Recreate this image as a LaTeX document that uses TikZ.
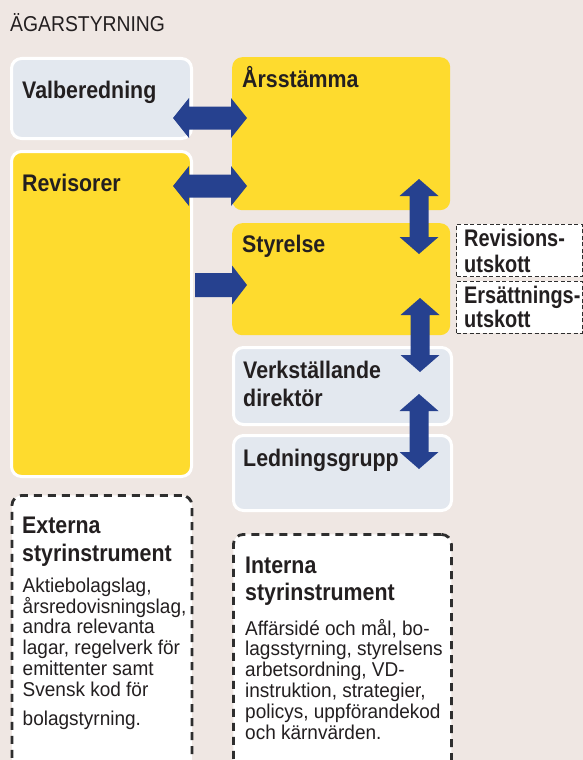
\documentclass[tikz,border=0pt]{standalone}
\usepackage{fontspec}
\setmainfont{Liberation Sans}
\newfontfamily\hfont{Liberation Sans}[FakeStretch=0.89]
\newfontfamily\hfontn{Liberation Sans}[FakeStretch=0.83]
\newfontfamily\tfont{Liberation Sans}[FakeStretch=0.9]
\newfontfamily\bfont{Liberation Sans}[FakeStretch=0.95]
\usetikzlibrary{calc}
\definecolor{bgc}{HTML}{EFE7E3}
\definecolor{ylw}{HTML}{FEDB2E}
\definecolor{lblue}{HTML}{E3E8EF}
\definecolor{arrc}{HTML}{26418F}
\definecolor{txt}{HTML}{231F20}
\definecolor{dashc}{HTML}{2E2E2E}
\tikzset{
  boxbase/.style={anchor=north west, inner sep=0pt, rounded corners=10pt},
  ybox/.style={boxbase, fill=ylw},
  ywbox/.style={boxbase, fill=ylw, draw=white, line width=3pt},
  lbox/.style={boxbase, fill=lblue, draw=white, line width=3pt},
  bigdash/.style={boxbase, fill=white, draw=dashc, line width=2.8pt, dash pattern=on 8pt off 6pt},
  smalldash/.style={anchor=north west, inner sep=0pt, fill=white, draw=dashc, line width=1.1pt, dash pattern=on 4pt off 2.5pt},
  head/.style={anchor=base west, inner sep=0pt, text=txt, font=\hfont\bfseries\fontsize{24}{28}\selectfont},
  headn/.style={head, font=\hfontn\bfseries\fontsize{24}{28}\selectfont},
  body/.style={anchor=base west, inner sep=0pt, text=txt, font=\bfont\fontsize{20}{21}\selectfont},
  titletext/.style={anchor=base west, inner sep=0pt, text=txt, font=\tfont\fontsize{21.5}{24}\selectfont},
}
\newcommand\hdarrow[2]{%
  \fill[arrc] (#1) -- ($(#1)+(16,-20)$) -- ($(#1)+(16,-11.5)$) -- ($(#2)+(-16,-11.5)$) -- ($(#2)+(-16,-20)$) -- (#2)
   -- ($(#2)+(-16,20)$) -- ($(#2)+(-16,11.5)$) -- ($(#1)+(16,11.5)$) -- ($(#1)+(16,20)$) -- cycle;}
\newcommand\vdarrow[2]{%
  \fill[arrc] (#1) -- ($(#1)+(19.5,17)$) -- ($(#1)+(9.5,17)$) -- ($(#2)+(9.5,-17)$) -- ($(#2)+(19.5,-17)$) -- (#2)
   -- ($(#2)+(-19.5,-17)$) -- ($(#2)+(-9.5,-17)$) -- ($(#1)+(-9.5,17)$) -- ($(#1)+(-19.5,17)$) -- cycle;}
\newcommand\rsarrow[2]{%
  \fill[arrc] ($(#1)+(0,-12)$) -- ($(#2)+(-15,-12)$) -- ($(#2)+(-15,-19.5)$) -- (#2)
   -- ($(#2)+(-15,19.5)$) -- ($(#2)+(-15,12)$) -- ($(#1)+(0,12)$) -- cycle;}
\begin{document}
\begin{tikzpicture}[x=1pt,y=-1pt]
\fill[bgc] (0,0) rectangle (583,760);
\useasboundingbox (0,0) rectangle (583,760);
\clip (0,0) rectangle (583,760);
% boxes
\node[lbox, minimum width=180pt, minimum height=80pt] (valb) at (10,57) {};
\node[ybox, minimum width=218pt, minimum height=153pt] (arss) at (232,57) {};
\node[ywbox, minimum width=180pt, minimum height=325pt] (revi) at (10,150) {};
\node[ybox, minimum width=218pt, minimum height=112pt] (styr) at (232,223) {};
\node[lbox, minimum width=218pt, minimum height=77pt] (vd) at (232,346) {};
\node[lbox, minimum width=218pt, minimum height=75pt] (ledn) at (232,434) {};
\node[smalldash, minimum width=125.5pt, minimum height=52.5pt] (revu) at (456,223.5) {};
\node[smalldash, minimum width=125.5pt, minimum height=52pt] (ersu) at (456,280.5) {};
\node[bigdash, minimum width=180pt, minimum height=290pt] (ext) at (10.5,494) {};
\node[bigdash, minimum width=218pt, minimum height=250pt] (int) at (232,533) {};
% arrow end points
\coordinate (a1l) at (173,118); \coordinate (a1r) at (247,118);
\coordinate (a2l) at (173,186); \coordinate (a2r) at (247,186);
\coordinate (a3l) at (195,285); \coordinate (a3r) at (247,285);
\coordinate (vat) at (419,179); \coordinate (vab) at (419,254);
\coordinate (vbt) at (420,298); \coordinate (vbb) at (420,372);
\coordinate (vct) at (419,394); \coordinate (vcb) at (419,469);
\hdarrow{a1l}{a1r}
\hdarrow{a2l}{a2r}
\rsarrow{a3l}{a3r}
\vdarrow{vat}{vab}
\vdarrow{vbt}{vbb}
\vdarrow{vct}{vcb}
% texts
\node[titletext] (title) at (10,32) {ÄGARSTYRNING};
\node[head] (tvalb) at (22,98) {Valberedning};
\node[head] (tarss) at (242,87) {Årsstämma};
\node[head] (trevi) at (22,191) {Revisorer};
\node[head] (tstyr) at (242,252) {Styrelse};
\node[head] (tvd1) at (243,378) {Verkställande};
\node[head] (tvd2) at (243,406) {direktör};
\node[head] (tledn) at (243,466) {Ledningsgrupp};
\node[headn] (trevu1) at (464,246) {Revisions-};
\node[headn] (trevu2) at (464,272) {utskott};
\node[headn] (tersu1) at (464,303) {Ersättnings-};
\node[headn] (tersu2) at (464,327) {utskott};
\node[head] (text1) at (22,533) {Externa};
\node[head] (text2) at (22,561) {styrinstrument};
\node[head] (tint1) at (245,573) {Interna};
\node[head] (tint2) at (245,600) {styrinstrument};
\foreach \t/\y [count=\i] in {{Aktiebolagslag,}/592, {årsredovisningslag,}/613, {andra relevanta}/633.5, {lagar, regelverk för}/654.5, {emittenter samt}/675.5, {Svensk kod för}/696.5, {bolagstyrning.}/725}
  \node[body] (eb\i) at (22.5,\y) {\t};
\foreach \t/\y [count=\i] in {{Affärsidé och mål, bo-}/635, {lagsstyrning, styrelsens}/655.5, {arbetsordning, VD-}/676.5, {instruktion, strategier,}/697, {policys, uppförandekod}/718, {och kärnvärden.}/739}
  \node[body] (ib\i) at (245,\y) {\t};
\end{tikzpicture}
\end{document}
